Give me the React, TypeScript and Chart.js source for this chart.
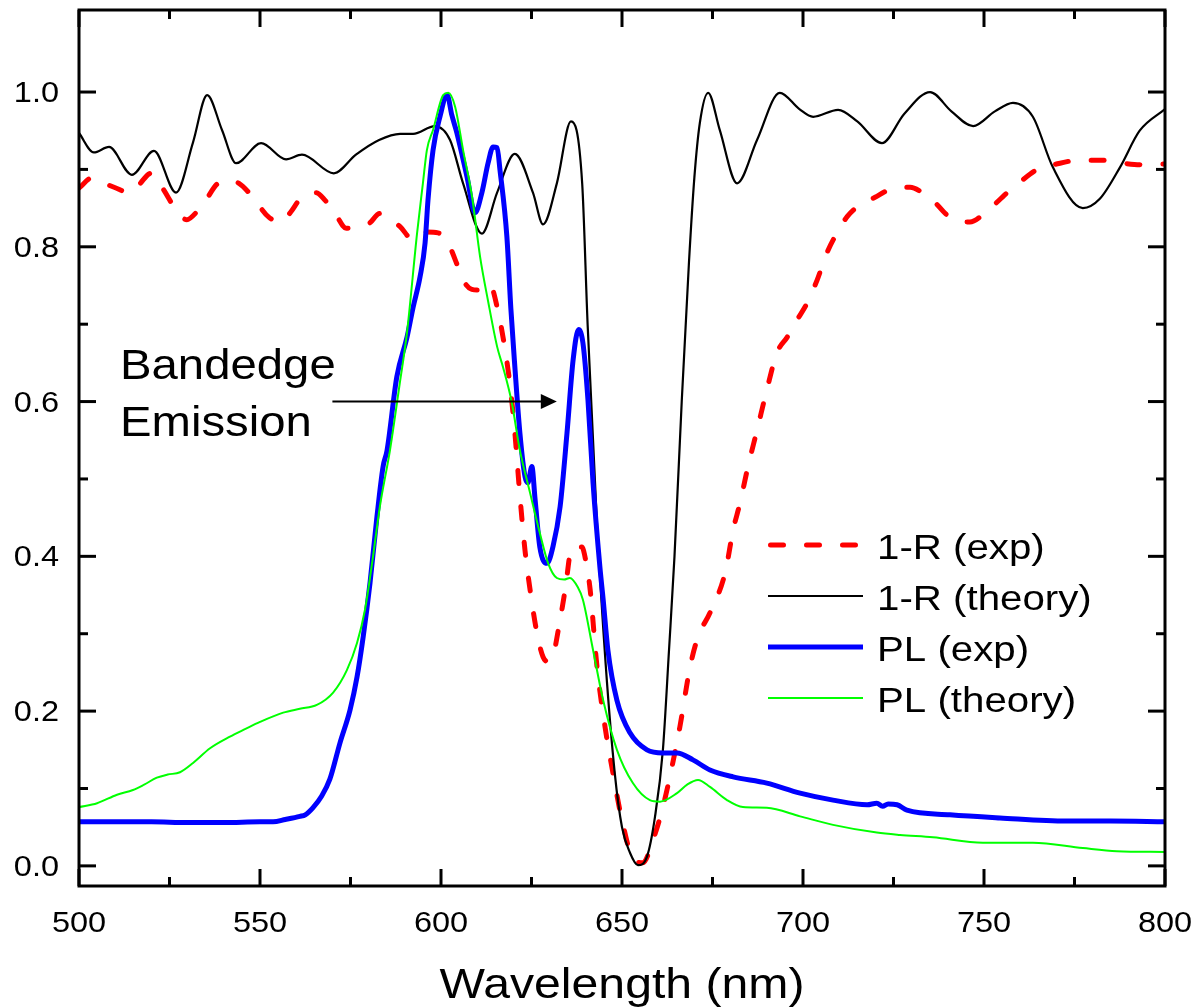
import React, { useEffect, useRef } from "react";
import { Chart, registerables } from "chart.js";

Chart.register(...registerables);

// 1-R, measured
const wlRExp = [500, 503.6, 507, 510.2, 513.8, 516.5, 519.9, 522.9, 526.8, 529.8, 532.5, 535, 538.1, 541, 544.2, 547.5, 552.5, 556, 558.5, 561.3, 565.5, 568, 571, 573.8, 577, 580.1, 583.1, 585.5, 588.7, 592.3, 596.1, 599.2, 601.9, 604.7, 606.1, 608.5, 610.8, 613.5, 615.7, 617.7, 619.1, 620.4, 621.8, 623.2, 624.6, 626.5, 628.2, 629.6, 630.5, 632.9, 634.3, 636.2, 638.9, 640.3, 641.2, 643.1, 645.3, 647.5, 650, 653, 655.8, 658.6, 661.3, 663.8, 666, 668.8, 671, 674.3, 678.5, 680.7, 682.6, 684.8, 687.3, 690, 692.8, 695.6, 698.3, 701.1, 703.9, 706.6, 709.4, 712.2, 715.7, 719.9, 723, 726.8, 729.6, 733, 735.9, 739.8, 743, 746.1, 750.3, 756.4, 760, 765.5, 769.1, 776.5, 782, 788.4, 794, 800];
const rExp = [0.876, 0.889, 0.882, 0.876, 0.870, 0.880, 0.895, 0.877, 0.848, 0.835, 0.845, 0.860, 0.881, 0.886, 0.882, 0.867, 0.838, 0.832, 0.845, 0.863, 0.870, 0.860, 0.841, 0.824, 0.826, 0.830, 0.843, 0.838, 0.826, 0.809, 0.819, 0.818, 0.805, 0.774, 0.757, 0.745, 0.744, 0.751, 0.718, 0.667, 0.620, 0.560, 0.478, 0.408, 0.357, 0.301, 0.270, 0.264, 0.266, 0.318, 0.357, 0.412, 0.412, 0.386, 0.357, 0.257, 0.180, 0.120, 0.059, 0.010, 0.004, 0.034, 0.076, 0.128, 0.180, 0.257, 0.296, 0.327, 0.379, 0.434, 0.469, 0.516, 0.563, 0.615, 0.663, 0.683, 0.705, 0.727, 0.757, 0.792, 0.818, 0.839, 0.854, 0.864, 0.872, 0.877, 0.877, 0.870, 0.860, 0.841, 0.833, 0.832, 0.844, 0.870, 0.884, 0.902, 0.906, 0.912, 0.912, 0.908, 0.906, 0.907];

// 1-R, transfer-matrix theory
const wlRTheory = [500, 504.1, 508.3, 514.6, 520.7, 526.8, 531.5, 535.4, 539.5, 543.4, 550.3, 557.2, 561.6, 570.4, 576.5, 582.9, 588.7, 592.3, 598.3, 602.5, 606.1, 611.3, 615.5, 620.4, 625.4, 628.2, 632, 635.9, 639, 640.5, 643, 645.5, 648, 650, 652.2, 654.4, 656.9, 659.1, 661.3, 663, 664.5, 666.5, 668.5, 670, 671.5, 673.8, 677, 681.8, 687.3, 693.6, 699, 702.8, 709.7, 715, 721.8, 728, 735.1, 741, 747, 753, 758, 763.5, 769, 777.3, 782, 787.6, 793, 800];
const rTheory = [0.947, 0.922, 0.929, 0.893, 0.924, 0.870, 0.935, 0.996, 0.951, 0.908, 0.934, 0.913, 0.919, 0.895, 0.919, 0.938, 0.946, 0.946, 0.956, 0.938, 0.882, 0.817, 0.870, 0.920, 0.870, 0.829, 0.882, 0.962, 0.882, 0.700, 0.450, 0.260, 0.120, 0.050, 0.017, 0.001, 0.012, 0.063, 0.150, 0.280, 0.400, 0.600, 0.780, 0.890, 0.960, 0.999, 0.951, 0.882, 0.938, 0.999, 0.978, 0.968, 0.977, 0.962, 0.934, 0.972, 1.0, 0.975, 0.956, 0.975, 0.986, 0.968, 0.903, 0.850, 0.862, 0.903, 0.950, 0.978];

// Photoluminescence, measured
const wlPlExp = [500, 510, 520, 530, 540, 550, 553.6, 557, 561, 562.5, 564.6, 567, 569.3, 572.1, 574.9, 576.8, 578.5, 580.4, 582.3, 584, 585.1, 587.8, 590.6, 592.3, 594.2, 595.6, 596.4, 597.8, 599.7, 601.7, 603, 604.4, 607.2, 609.4, 611.3, 613, 614.4, 615.5, 616.3, 618.2, 619.3, 620.4, 621.8, 623.2, 624, 625.1, 626, 627.3, 629.3, 630.9, 632.9, 634.8, 636.5, 638, 639.2, 640.6, 642, 643.9, 644.8, 646.1, 648.6, 652.2, 656.9, 661.3, 665.2, 669.6, 674.3, 680.7, 690, 699.2, 708.3, 717.7, 720.4, 722, 723.5, 726, 728.7, 740.6, 754.4, 772.9, 785, 800];
const plExp = [0.057, 0.057, 0.057, 0.056, 0.056, 0.057, 0.057, 0.060, 0.064, 0.066, 0.075, 0.090, 0.112, 0.159, 0.202, 0.244, 0.296, 0.366, 0.451, 0.516, 0.537, 0.632, 0.683, 0.722, 0.761, 0.805, 0.860, 0.925, 0.968, 0.996, 0.970, 0.947, 0.890, 0.844, 0.870, 0.908, 0.929, 0.928, 0.899, 0.813, 0.720, 0.645, 0.559, 0.503, 0.495, 0.516, 0.473, 0.412, 0.391, 0.412, 0.464, 0.559, 0.654, 0.693, 0.676, 0.602, 0.495, 0.386, 0.344, 0.279, 0.214, 0.172, 0.150, 0.146, 0.146, 0.137, 0.124, 0.115, 0.107, 0.094, 0.085, 0.079, 0.081, 0.077, 0.080, 0.079, 0.072, 0.066, 0.062, 0.058, 0.058, 0.057];

// Photoluminescence, theory
const wlPlTheory = [500, 505, 510.5, 514.9, 518, 521.5, 524.5, 527.9, 531.5, 536.2, 541.7, 546, 550, 556.4, 561, 565.7, 570.2, 574, 576.8, 579, 581.2, 583.1, 585.9, 588.5, 590.6, 593.4, 595, 596.1, 597.8, 600.6, 602, 603.9, 606.1, 608.6, 610.8, 613, 615.5, 617.1, 619.5, 621.8, 624.6, 627.3, 629.6, 632, 634, 635.6, 637.8, 639.2, 642, 644.8, 648.6, 653, 657.7, 660.5, 665.2, 668, 671, 674.3, 679, 683.4, 690, 699.2, 708.3, 720.4, 726.8, 735.9, 749.7, 763.5, 777.3, 786.7, 800];
const plTheory = [0.076, 0.081, 0.092, 0.098, 0.105, 0.114, 0.118, 0.121, 0.133, 0.152, 0.167, 0.177, 0.186, 0.198, 0.203, 0.208, 0.224, 0.253, 0.288, 0.331, 0.399, 0.464, 0.537, 0.620, 0.689, 0.818, 0.882, 0.925, 0.951, 0.996, 0.999, 0.981, 0.925, 0.864, 0.787, 0.730, 0.671, 0.645, 0.600, 0.537, 0.482, 0.430, 0.391, 0.372, 0.370, 0.372, 0.360, 0.344, 0.279, 0.214, 0.150, 0.107, 0.085, 0.083, 0.094, 0.105, 0.111, 0.102, 0.085, 0.076, 0.075, 0.064, 0.053, 0.043, 0.040, 0.037, 0.030, 0.030, 0.023, 0.019, 0.018];

const seriesLabels = ["1-R (exp)", "1-R (theory)", "PL (exp)", "PL (theory)"];
const xMajorTicks = [500, 550, 600, 650, 700, 750, 800];
const xMinorTicks = [525, 575, 625, 675, 725, 775];
const yMajorTicks = [0, 0.2, 0.4, 0.6, 0.8, 1.0];
const yMinorTicks = [0.1, 0.3, 0.5, 0.7, 0.9];
const xTitle = "Wavelength (nm)";
const noteLines = ["Bandedge", "Emission"];
// arrow of the note, in data units: from wavelength, to wavelength, level
const noteArrow = [570, 632, 0.6];

const FONT = '"Liberation Sans", Arial, Helvetica, sans-serif';
const TEXT_SX = 1.15;

const toPoints = (xs: number[], ys: number[]) => xs.map((x, i) => ({ x, y: ys[i] }));

function drawText(
  ctx: CanvasRenderingContext2D,
  text: string,
  x: number,
  y: number,
  size: number,
  align: "left" | "center" | "right",
  sx = TEXT_SX
) {
  ctx.save();
  ctx.font = `${size}px ${FONT}`;
  ctx.textAlign = "left";
  ctx.textBaseline = "alphabetic";
  const w = ctx.measureText(text).width * sx;
  let x0 = x;
  if (align === "center") x0 = x - w / 2;
  else if (align === "right") x0 = x - w;
  ctx.translate(x0, y);
  ctx.scale(sx, 1);
  ctx.fillStyle = "#000";
  ctx.fillText(text, 0, 0);
  ctx.restore();
}

const framePlugin = {
  id: "frameAndText",
  afterDatasetsDraw(chart: any) {
    const { ctx, chartArea: a, scales } = chart;
    const xs = scales.x;
    const ys = scales.y;
    ctx.save();
    ctx.strokeStyle = "#000";
    ctx.lineWidth = 3;
    ctx.lineCap = "butt";
    ctx.strokeRect(a.left, a.top, a.right - a.left, a.bottom - a.top);

    const tick = (x1: number, y1: number, x2: number, y2: number) => {
      ctx.beginPath();
      ctx.moveTo(x1, y1);
      ctx.lineTo(x2, y2);
      ctx.stroke();
    };
    const major = 17;
    const minor = 9;
    xMajorTicks.forEach((v) => {
      const p = xs.getPixelForValue(v);
      tick(p, a.bottom, p, a.bottom - major);
      tick(p, a.top, p, a.top + major);
      drawText(ctx, String(v), p, a.bottom + 46, 29, "center", 1.12);
    });
    xMinorTicks.forEach((v) => {
      const p = xs.getPixelForValue(v);
      tick(p, a.bottom, p, a.bottom - minor);
      tick(p, a.top, p, a.top + minor);
    });
    yMajorTicks.forEach((v) => {
      const p = ys.getPixelForValue(v);
      tick(a.left, p, a.left + major, p);
      tick(a.right, p, a.right - major, p);
      drawText(ctx, v.toFixed(1), a.left - 20, p + 10, 29, "right", 1.12);
    });
    yMinorTicks.forEach((v) => {
      const p = ys.getPixelForValue(v);
      tick(a.left, p, a.left + minor, p);
      tick(a.right, p, a.right - minor, p);
    });

    // axis title
    drawText(ctx, xTitle, (a.left + a.right) / 2, a.bottom + 112, 43, "center", 1.12);

    // legend
    const legendX0 = a.left + 689;
    const legendX1 = a.left + 784;
    const legendTextX = a.left + 798;
    const rowY = [545, 596, 647, 698];
    chart.data.datasets.forEach((ds: any, i: number) => {
      const y = rowY[i];
      ctx.save();
      ctx.strokeStyle = ds.borderColor;
      ctx.lineWidth = ds.borderWidth;
      if (ds.borderDash && ds.borderDash.length) {
        ctx.setLineDash(ds.borderDash);
        ctx.lineCap = "round";
        tick(legendX0 + 2.5, y, legendX1 - 2.5, y);
      } else {
        tick(legendX0, y, legendX1, y);
      }
      ctx.restore();
      drawText(ctx, seriesLabels[i], legendTextX, y + 14, 35, "left");
    });

    // note with arrow
    const ax0 = xs.getPixelForValue(noteArrow[0]);
    const ax1 = xs.getPixelForValue(noteArrow[1]);
    const ay = ys.getPixelForValue(noteArrow[2]);
    drawText(ctx, noteLines[0], a.left + 41, ay - 23, 43, "left", 1.1);
    drawText(ctx, noteLines[1], a.left + 41, ay + 34, 43, "left", 1.1);
    ctx.lineWidth = 2;
    tick(ax0, ay, ax1 - 14, ay);
    ctx.fillStyle = "#000";
    ctx.beginPath();
    ctx.moveTo(ax1, ay);
    ctx.lineTo(ax1 - 16, ay - 7.5);
    ctx.lineTo(ax1 - 16, ay + 7.5);
    ctx.closePath();
    ctx.fill();
    ctx.restore();
  },
};

export default function App() {
  const canvasRef = useRef<HTMLCanvasElement | null>(null);

  useEffect(() => {
    if (!canvasRef.current) return;
    const common = {
      pointRadius: 0,
      pointHoverRadius: 0,
      fill: false,
      cubicInterpolationMode: "monotone" as const,
      borderJoinStyle: "round" as const,
    };
    const chart = new Chart(canvasRef.current, {
      type: "line",
      data: {
        datasets: [
          {
            ...common,
            label: seriesLabels[0],
            data: toPoints(wlRExp, rExp),
            borderColor: "#ff0000",
            borderWidth: 5,
            borderDash: [13, 23],
            borderCapStyle: "round",
            order: 4,
          },
          {
            ...common,
            label: seriesLabels[1],
            data: toPoints(wlRTheory, rTheory),
            borderColor: "#000000",
            borderWidth: 2.2,
            order: 3,
          },
          {
            ...common,
            label: seriesLabels[2],
            data: toPoints(wlPlExp, plExp),
            borderColor: "#0000ff",
            borderWidth: 5,
            order: 2,
          },
          {
            ...common,
            label: seriesLabels[3],
            data: toPoints(wlPlTheory, plTheory),
            borderColor: "#00ff00",
            borderWidth: 2,
            order: 1,
          },
        ],
      },
      options: {
        animation: false,
        responsive: false,
        devicePixelRatio: 1,
        events: [],
        layout: { padding: { top: 10, right: 33, left: 0, bottom: 0 } },
        plugins: {
          legend: { display: false },
          tooltip: { enabled: false },
          title: { display: false },
        },
        scales: {
          x: {
            type: "linear",
            min: 500,
            max: 800,
            grid: { display: false, drawTicks: false },
            border: { display: false },
            ticks: { display: false },
            afterFit: (s: any) => {
              s.height = 122;
            },
          },
          y: {
            type: "linear",
            min: -0.026,
            max: 1.106,
            grid: { display: false, drawTicks: false },
            border: { display: false },
            ticks: { display: false },
            afterFit: (s: any) => {
              s.width = 79;
            },
          },
        },
      },
      plugins: [framePlugin],
    });
    return () => chart.destroy();
  }, []);

  return (
    <div
      style={{
        position: "fixed",
        left: 0,
        top: 0,
        width: 1198,
        height: 1008,
        background: "#ffffff",
      }}
    >
      <canvas ref={canvasRef} width={1198} height={1008} style={{ display: "block" }} />
    </div>
  );
}
